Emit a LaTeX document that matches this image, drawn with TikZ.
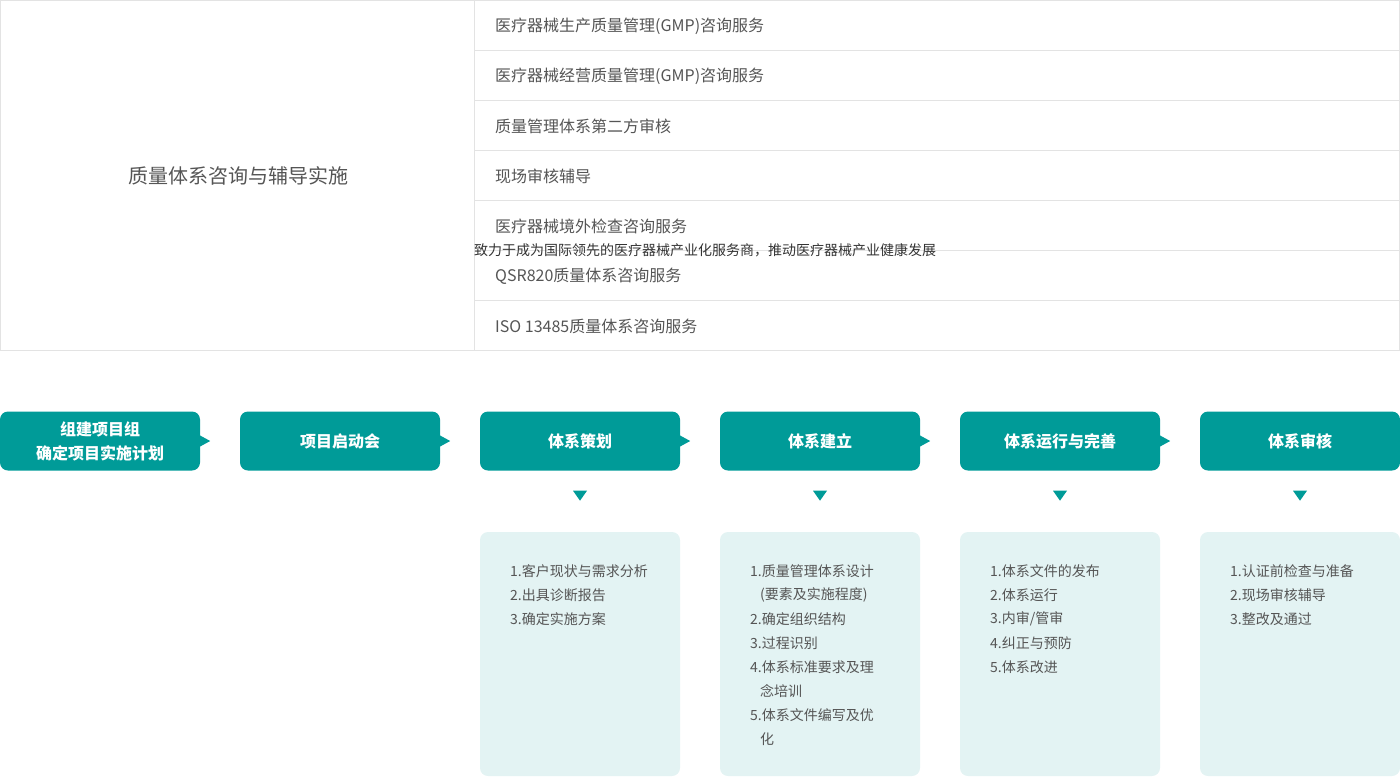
\documentclass[tikz,border=0pt]{standalone}
\usepackage{fontspec}
\setmainfont{Noto Sans CJK SC}
\definecolor{stepteal}{HTML}{009B98}
\definecolor{listbg}{HTML}{E3F3F3}
\definecolor{gridline}{HTML}{E3E3E3}
\definecolor{textgray}{HTML}{555555}
\definecolor{slogangray}{HTML}{333333}

\begin{document}
\begin{tikzpicture}[x=1pt,y=-1pt,
    stepbox/.style={rectangle,rounded corners=8pt,fill=stepteal,minimum width=200pt,minimum height=59pt,inner sep=0pt,text=white,align=center,font=\fontsize{16}{24}\selectfont\bfseries},
    listbox/.style={rectangle,rounded corners=8pt,fill=listbg,minimum width=200pt,minimum height=244pt,inner sep=0pt},
    rowtext/.style={anchor=west,inner sep=0pt,text=textgray,font=\fontsize{16}{20}\selectfont},
    itemtext/.style={anchor=west,inner sep=0pt,text=textgray,font=\fontsize{14}{20}\selectfont}]
    \useasboundingbox (0,0) rectangle (1400,777);
    \draw[gridline] (0.5,0.5) rectangle (1399.5,350.5);  %Tabelle
    \draw[gridline] (474.5,0.5) -- (474.5,350.5);
    \foreach \y in {1,...,6}
    {
      \draw[gridline] (474.5,\y*50+0.5) -- (1399.5,\y*50+0.5);
    }
    \node[text=textgray,font=\fontsize{20}{24}\selectfont,inner sep=0pt] (lefthead) at (238,176) {质量体系咨询与辅导实施};
    \foreach \i/\t in
    {
      0/医疗器械生产质量管理(GMP)咨询服务,
      1/医疗器械经营质量管理(GMP)咨询服务,
      2/质量管理体系第二方审核,
      3/现场审核辅导,
      4/医疗器械境外检查咨询服务,
      5/QSR820质量体系咨询服务,
      6/ISO 13485质量体系咨询服务
    }
    {
      \node[rowtext] (row\i) at (495,\i*50+26.5) {\t};
    };
    \node[anchor=west,inner sep=0pt,text=slogangray,font=\fontsize{14}{20}\selectfont] (slogan) at (474,250.5) {致力于成为国际领先的医疗器械产业化服务商，推动医疗器械产业健康发展};
    \foreach \i/\x/\t in
    {
      1/100/{组建项目组\\确定项目实施计划},
      2/340/项目启动会,
      3/580/体系策划,
      4/820/体系建立,
      5/1060/体系运行与完善,
      6/1300/体系审核}
    {
      \node[stepbox] (s\i) at (\x,441) {\t};
      \ifnum\i<6
        \fill[stepteal] (s\i.east) ++(-1,-6) -- ++(11,6) -- ++(-11,6) -- cycle;
      \fi
    };
    \foreach \b/\x/\items in
    {
      3/510/{1.客户现状与需求分析, 2.出具诊断报告, 3.确定实施方案},
      4/750/{1.质量管理体系设计, \hspace*{10pt}(要素及实施程度), 2.确定组织结构, 3.过程识别, 4.体系标准要求及理, \hspace*{10pt}念培训, 5.体系文件编写及优, \hspace*{10pt}化},
      5/990/{1.体系文件的发布, 2.体系运行, 3.内审/管审, 4.纠正与预防, 5.体系改进},
      6/1230/{1.认证前检查与准备, 2.现场审核辅导, 3.整改及通过}}
    {
      \fill[stepteal] (s\b.south) ++(-7,20) -- ++(14,0) -- ++(-7,10) -- cycle;
      \node[listbox] (b\b) at (\x+70,654) {};
      \foreach \t [count=\k from 0] in \items
      {
        \node[itemtext] (item\b-\k) at (\x,571+\k*24) {\t};
      };
    };
  \end{tikzpicture}
\end{document}
